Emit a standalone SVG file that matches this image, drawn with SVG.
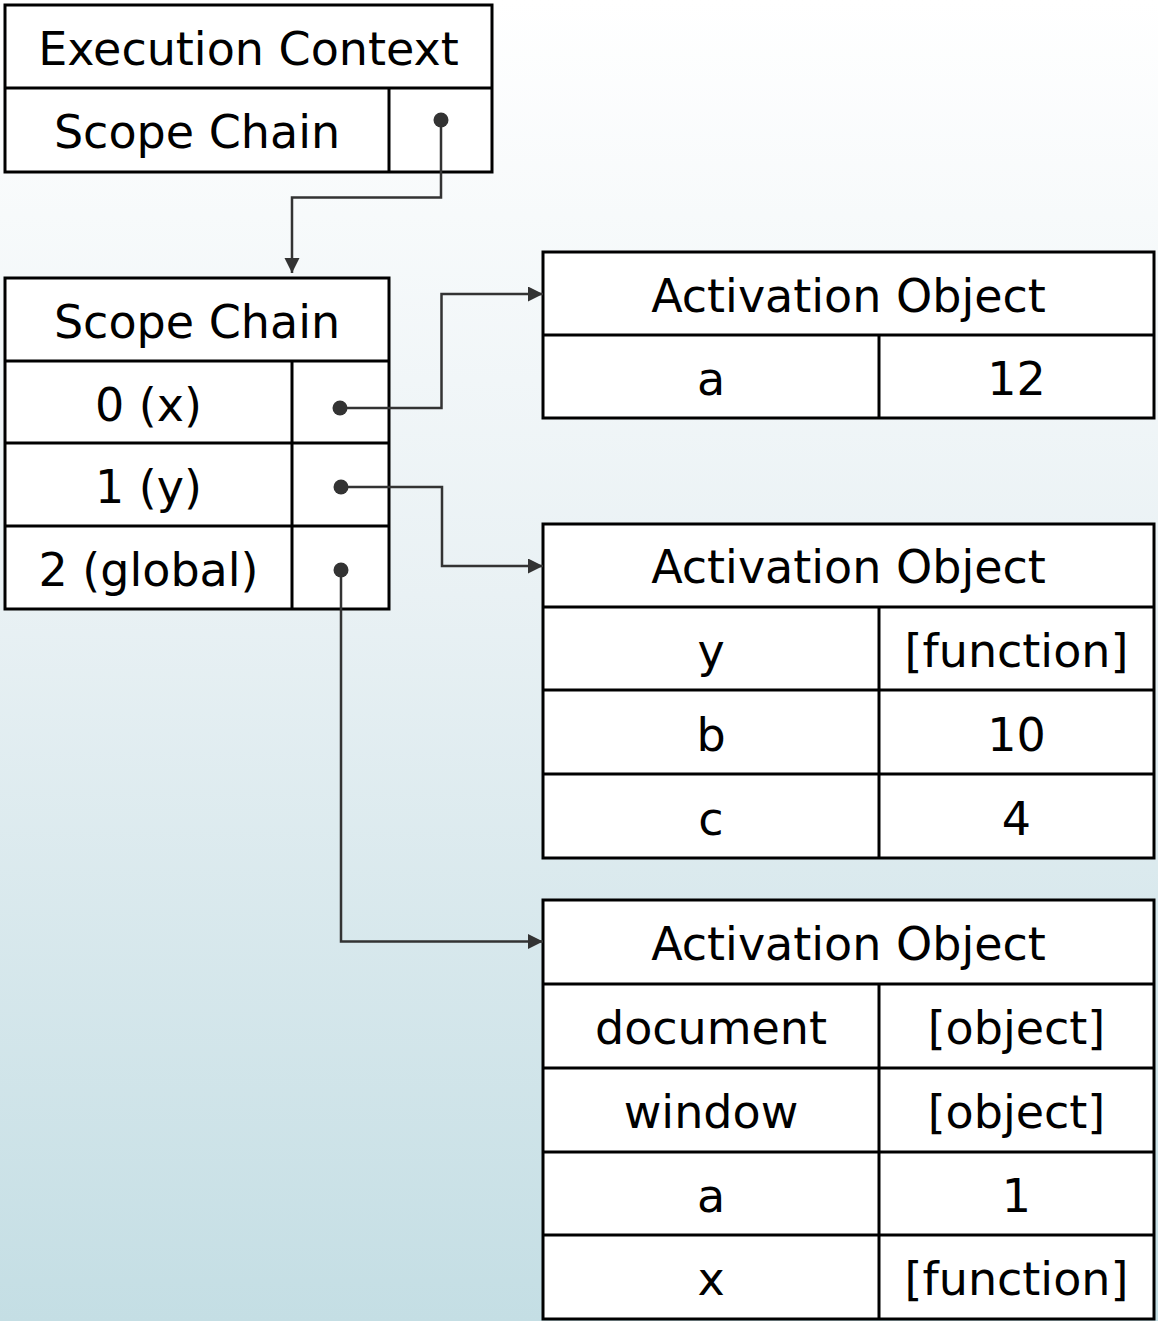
<svg xmlns="http://www.w3.org/2000/svg" width="1158" height="1321" viewBox="0 0 1158 1321">
  <defs>
    <linearGradient id="bg" x1="0" y1="0" x2="0" y2="1">
      <stop offset="0" stop-color="#ffffff"/>
      <stop offset="0.45" stop-color="#e9f1f4"/>
      <stop offset="1" stop-color="#c4dee4"/>
    </linearGradient>
    <marker id="arrow" markerUnits="userSpaceOnUse" markerWidth="16" markerHeight="16" refX="15" refY="7.5" orient="auto">
      <path d="M0,0 L15,7.5 L0,15 Z" fill="#333333"/>
    </marker>
    <style>
      .cell { fill: #ffffff; stroke: #000000; stroke-width: 3; }
      .rule { stroke: #000000; stroke-width: 3; fill: none; }
      .lbl { font-family: "DejaVu Sans", "Liberation Sans", sans-serif; font-size: 46px; fill: #000000; text-anchor: middle; }
      .wire { fill: none; stroke: #333333; stroke-width: 2.5; marker-end: url(#arrow); }
      .dot { fill: #333333; }
    </style>
  </defs>

  <rect x="0" y="0" width="1158" height="1321" fill="url(#bg)"/>

  <!-- Execution context record -->
  <g id="execution-context">
    <rect class="cell" x="5" y="5" width="487" height="167"/>
    <line class="rule" x1="5" y1="88" x2="492" y2="88"/>
    <line class="rule" x1="389" y1="88" x2="389" y2="172"/>
    <text class="lbl" x="248.5" y="65">Execution Context</text>
    <text class="lbl" x="197" y="148">Scope Chain</text>
  </g>

  <!-- Scope chain list -->
  <g id="scope-chain">
    <rect class="cell" x="5" y="278" width="384" height="331"/>
    <line class="rule" x1="5" y1="361" x2="389" y2="361"/>
    <line class="rule" x1="5" y1="443" x2="389" y2="443"/>
    <line class="rule" x1="5" y1="526" x2="389" y2="526"/>
    <line class="rule" x1="292" y1="361" x2="292" y2="609"/>
    <text class="lbl" x="197" y="338">Scope Chain</text>
    <text class="lbl" x="148.5" y="421">0 (x)</text>
    <text class="lbl" x="148.5" y="503">1 (y)</text>
    <text class="lbl" x="148.5" y="586">2 (global)</text>
  </g>

  <!-- Activation object of x -->
  <g id="activation-x">
    <rect class="cell" x="543" y="252" width="611" height="166"/>
    <line class="rule" x1="543" y1="335" x2="1154" y2="335"/>
    <line class="rule" x1="879" y1="335" x2="879" y2="418"/>
    <text class="lbl" x="848.5" y="312">Activation Object</text>
    <text class="lbl" x="711" y="395">a</text>
    <text class="lbl" x="1016.5" y="395">12</text>
  </g>

  <!-- Activation object of y -->
  <g id="activation-y">
    <rect class="cell" x="543" y="524" width="611" height="334"/>
    <line class="rule" x1="543" y1="607" x2="1154" y2="607"/>
    <line class="rule" x1="543" y1="690" x2="1154" y2="690"/>
    <line class="rule" x1="543" y1="774" x2="1154" y2="774"/>
    <line class="rule" x1="879" y1="607" x2="879" y2="858"/>
    <text class="lbl" x="848.5" y="583">Activation Object</text>
    <text class="lbl" x="711" y="667">y</text>
    <text class="lbl" x="1016.5" y="667">[function]</text>
    <text class="lbl" x="711" y="751">b</text>
    <text class="lbl" x="1016.5" y="751">10</text>
    <text class="lbl" x="711" y="835">c</text>
    <text class="lbl" x="1016.5" y="835">4</text>
  </g>

  <!-- Global activation object -->
  <g id="activation-global">
    <rect class="cell" x="543" y="900" width="611" height="419"/>
    <line class="rule" x1="543" y1="984" x2="1154" y2="984"/>
    <line class="rule" x1="543" y1="1068" x2="1154" y2="1068"/>
    <line class="rule" x1="543" y1="1152" x2="1154" y2="1152"/>
    <line class="rule" x1="543" y1="1235" x2="1154" y2="1235"/>
    <line class="rule" x1="879" y1="984" x2="879" y2="1319"/>
    <text class="lbl" x="848.5" y="960">Activation Object</text>
    <text class="lbl" x="711" y="1044">document</text>
    <text class="lbl" x="1016.5" y="1044">[object]</text>
    <text class="lbl" x="711" y="1128">window</text>
    <text class="lbl" x="1016.5" y="1128">[object]</text>
    <text class="lbl" x="711" y="1212">a</text>
    <text class="lbl" x="1016.5" y="1212">1</text>
    <text class="lbl" x="711" y="1295">x</text>
    <text class="lbl" x="1016.5" y="1295">[function]</text>
  </g>

  <!-- Pointers -->
  <g id="connectors">
    <path class="wire" d="M441,120 V197.5 H292 V273"/>
    <path class="wire" d="M340,408 H441.5 V294 H543"/>
    <path class="wire" d="M341,487 H442 V566 H543"/>
    <path class="wire" d="M341,570 V941.5 H543"/>
    <circle class="dot" cx="441" cy="120" r="7.5"/>
    <circle class="dot" cx="340" cy="408" r="7.5"/>
    <circle class="dot" cx="341" cy="487" r="7.5"/>
    <circle class="dot" cx="341" cy="570" r="7.5"/>
  </g>
</svg>
